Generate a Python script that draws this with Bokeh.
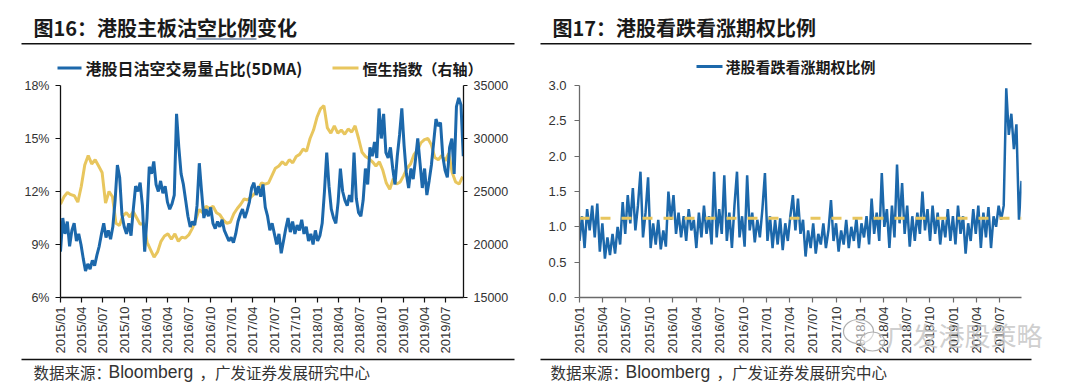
import pandas as pd
from bokeh.plotting import figure
from bokeh.models import (Range1d, LinearAxis, FixedTicker, DatetimeTickFormatter,
                          PrintfTickFormatter, NumeralTickFormatter)
from bokeh.layouts import row, column
from bokeh.core.properties import value
from bokeh.embed import file_html
from bokeh.resources import INLINE

# ---------------- data ----------------
title_left = "图16：港股主板沽空比例变化"
title_right = "图17：港股看跌看涨期权比例"
source_head = "数据来源："
source_org = "Bloomberg"
source_tail = "，广发证券发展研究中心"
watermark = "广发港股策略"

short_name = "港股日沽空交易量占比(5DMA)"
hsi_name = "恒生指数（右轴）"
pcr_name = "港股看跌看涨期权比例"

tick_labels = ["2015/01", "2015/04", "2015/07", "2015/10", "2016/01", "2016/04",
               "2016/07", "2016/10", "2017/01", "2017/04", "2017/07", "2017/10",
               "2018/01", "2018/04", "2018/07", "2018/10", "2019/01", "2019/04",
               "2019/07"]

# HK main board short-selling turnover ratio, 5DMA (%)
short_start, short_end = "2015-01-01", "2019-09-15"
short_ratio = [
    8.6, 10.5, 9.6, 10.3, 8.9, 9.8, 10.2, 9.2, 9.6, 9.0,
    8.2, 7.5, 7.9, 7.6, 8.1, 7.8, 8.4, 8.9, 9.6, 10.2,
    9.4, 9.8, 9.3, 10.0, 11.5, 13.5, 12.8, 10.7, 10.0, 9.6,
    10.2, 9.5, 11.0, 12.3, 12.0, 12.5, 11.2, 8.6, 10.5, 13.4,
    13.0, 13.7, 12.4, 12.0, 12.6, 11.9, 12.3, 11.4, 11.0, 11.3,
    11.8, 16.4, 14.5, 13.0, 12.4, 11.5, 10.6, 10.0, 10.3, 10.1,
    11.2, 13.6, 12.0, 10.5, 11.0, 10.6, 11.1, 10.2, 9.9, 10.3,
    10.0, 10.4, 9.8, 9.5, 9.2, 9.4, 9.1, 9.6, 10.3, 10.7,
    11.0, 10.5, 10.9, 11.4, 12.2, 12.5, 11.8, 12.3, 11.7, 12.4,
    11.1, 10.6, 9.8, 10.2, 9.6, 9.0, 9.6, 8.5, 9.2, 9.9,
    10.5, 9.7, 10.3, 9.6, 10.1, 9.8, 10.4, 9.6, 10.0, 9.2,
    9.6, 9.0, 9.8, 9.2, 9.5, 10.2, 12.0, 14.2, 12.3, 11.0,
    10.5, 10.2, 11.4, 13.3, 12.0, 11.5, 11.2, 11.8, 11.4, 14.2,
    11.6, 10.8, 10.6, 11.5, 13.3, 12.4, 14.5, 14.0, 14.8, 13.9,
    16.7, 15.0, 16.4, 14.2, 13.9, 14.5, 13.3, 12.4, 14.0, 15.2,
    16.7, 14.6, 13.0, 12.2, 13.3, 12.7, 13.8, 15.0, 13.6, 12.2,
    13.3, 11.8, 12.6, 13.5, 14.8, 16.1, 15.7, 15.9, 14.0, 13.2,
    12.8, 14.5, 15.0, 13.0, 16.8, 17.3, 16.9, 14.0,
]

# Hang Seng Index (right axis)
hsi_start, hsi_end = "2015-01-01", "2019-09-12"
hsi = [
    23800, 24500, 24900, 24700, 24600, 24000, 25500, 27500, 28400, 27600,
    28000, 27400, 26800, 23900, 25000, 24500, 22000, 21800, 22700, 23000,
    22600, 23100, 22500, 21900, 22000, 20200, 19500, 18800, 19300, 20300,
    20800, 21000, 20500, 21000, 20300, 20700, 20600, 20900, 21500, 22300,
    23300, 23000, 23600, 23400, 23600, 23000, 22800, 22300, 22000, 22100,
    22900, 23400, 23800, 24300, 24200, 24500, 24800, 25200, 25800, 25700,
    25800, 26500, 27200, 27400, 27800, 27500, 28000, 27700, 28300, 28500,
    29000, 28800, 30000, 30800, 32000, 32800, 33100, 31000, 30500, 31200,
    30500, 30800, 30400, 30900, 30600, 31200, 30000, 28700, 28300, 28100,
    27800, 27400, 27800, 27000, 25800, 25200, 26200, 25700, 25900, 26500,
    27200, 27600, 28500, 28900, 29600, 29900, 30000, 29400, 28200, 28000,
    28400, 27900, 28600, 26800, 25900, 25700, 26400,
]

# HK put/call ratio
pcr_start, pcr_end = "2015-01-01", "2019-09-24"
pcr = [
    0.80, 1.15, 0.70, 1.25, 0.95, 1.30, 0.85, 1.33, 0.65, 1.05,
    0.55, 0.85, 0.60, 0.90, 0.62, 1.00, 0.75, 1.35, 0.90, 1.45,
    1.05, 1.55, 0.95, 1.30, 1.78, 0.85, 1.20, 1.70, 0.70, 1.05,
    0.75, 1.10, 0.68, 0.95, 0.72, 1.50, 1.10, 1.45, 0.90, 1.20,
    0.85, 1.15, 0.80, 1.25, 0.95, 1.10, 0.70, 1.20, 0.85, 1.30,
    0.90, 1.15, 0.75, 1.78, 0.85, 1.25, 0.90, 1.73, 0.80, 1.20,
    0.70, 1.30, 1.78, 0.85, 1.15, 0.72, 1.73, 0.95, 1.20, 0.78,
    1.10, 0.85, 1.25, 1.76, 0.80, 1.15, 0.70, 1.10, 0.75, 1.12,
    0.67, 1.05, 0.80, 1.15, 1.45, 0.95, 1.40, 0.90, 1.10, 0.58,
    0.95, 0.70, 1.05, 0.62, 0.90, 0.75, 1.05, 0.70, 0.95, 1.38,
    0.80, 1.05, 0.65, 0.95, 0.75, 1.10, 0.70, 1.00, 0.80, 1.12,
    0.70, 1.05, 0.85, 1.15, 0.75, 1.40, 0.90, 1.20, 0.80, 1.76,
    1.00, 1.25, 0.70, 1.30, 0.85, 1.88, 1.05, 1.62, 0.90, 1.30,
    0.72, 1.15, 0.80, 1.20, 0.90, 1.50, 0.95, 1.25, 0.80, 1.30,
    0.90, 1.20, 0.75, 1.10, 0.85, 1.25, 0.80, 1.15, 0.75, 1.30,
    0.90, 1.15, 0.62, 1.05, 0.80, 1.25, 0.90, 1.30, 0.70, 1.20,
    0.85, 1.28, 0.70, 1.15, 1.00, 1.30, 1.10, 1.30, 2.96, 2.30,
    2.60, 2.10, 2.45, 1.10, 1.65,
]
pcr_mean = 1.12

# ---------------- styling ----------------
BLUE = "#1c68ab"
YELLOW = "#e8c65e"
LBL_FONT = "Liberation Sans"
CJK = "Noto Sans CJK SC"
W, H = 1080, 383

short_dates = pd.date_range(short_start, short_end, periods=len(short_ratio))
hsi_dates = pd.date_range(hsi_start, hsi_end, periods=len(hsi))
pcr_dates = pd.date_range(pcr_start, pcr_end, periods=len(pcr))
tick_ms = [pd.to_datetime(t, format="%Y/%m").timestamp() * 1000 for t in tick_labels]

fmt = DatetimeTickFormatter(years="%Y/%m", months="%Y/%m", days="%Y/%m",
                            hours="%Y/%m", minutes="%Y/%m", seconds="%Y/%m",
                            milliseconds="%Y/%m", microseconds="%Y/%m",
                            hourmin="%Y/%m", minsec="%Y/%m")


def style_axis(ax, color, size="12.5px", tick_out=5, standoff=5):
    ax.axis_line_color = color
    ax.axis_line_width = 1.3
    ax.major_tick_line_color = color
    ax.major_tick_line_width = 1.2
    ax.major_tick_in = 0
    ax.major_tick_out = tick_out
    ax.minor_tick_line_color = None
    ax.major_label_text_font = LBL_FONT
    ax.major_label_text_font_size = size
    ax.major_label_text_color = "#333333"
    ax.major_label_standoff = standoff


def chart_fig(x0, x1, y0, y1, borders):
    l, r, t, b = borders
    p = figure(width=W // 2, height=H, x_axis_type="datetime",
               x_range=Range1d(pd.Timestamp(x0), pd.Timestamp(x1)),
               y_range=Range1d(y0, y1),
               output_backend="svg", toolbar_location=None,
               min_border_left=l, min_border_right=r,
               min_border_top=t, min_border_bottom=b)
    p.outline_line_color = None
    p.xgrid.grid_line_color = None
    p.ygrid.grid_line_color = None
    p.background_fill_alpha = 0
    p.border_fill_alpha = 0
    p.xaxis.ticker = FixedTicker(ticks=tick_ms, minor_ticks=[])
    p.xaxis.formatter = fmt
    p.xaxis.major_label_orientation = 3.14159265 / 2
    return p


# ---------------- left chart ----------------
pL = chart_fig("2015-01-01", "2019-09-16", 6, 18, (60, 77, 85, 84))
pL.extra_y_ranges = {"hsi": Range1d(15000, 35000)}
pL.line(hsi_dates, hsi, y_range_name="hsi", line_color=YELLOW, line_width=3)
pL.line(short_dates, short_ratio, line_color=BLUE, line_width=3)

pL.yaxis.ticker = FixedTicker(ticks=[6, 9, 12, 15, 18], minor_ticks=[])
pL.yaxis.formatter = PrintfTickFormatter(format="%d%%")
style_axis(pL.yaxis[0], "#111111", standoff=6)
style_axis(pL.xaxis[0], "#111111", size="13px", standoff=4)
ax_r = LinearAxis(y_range_name="hsi",
                  ticker=FixedTicker(ticks=[15000, 20000, 25000, 30000, 35000], minor_ticks=[]))
style_axis(ax_r, "#111111", tick_out=4, standoff=6)
pL.add_layout(ax_r, "right")

# ---------------- right chart ----------------
pR = chart_fig("2015-01-01", "2019-09-24", 0, 3, (39, 59, 80, 86))
pR.line(pcr_dates, pcr, line_color=BLUE, line_width=2.5)
pR.line([pcr_dates[0], pcr_dates[-1]], [pcr_mean, pcr_mean], line_color=YELLOW,
        line_width=3, line_dash="10 11")
pR.yaxis.ticker = FixedTicker(ticks=[0, 0.5, 1.0, 1.5, 2.0, 2.5, 3.0], minor_ticks=[])
pR.yaxis.formatter = NumeralTickFormatter(format="0.0")
style_axis(pR.yaxis[0], "#6a6a6a", size="13px", standoff=8)
style_axis(pR.xaxis[0], "#6a6a6a", size="13px", standoff=4)

charts = row(pL, pR)

# ---------------- decoration layer (titles, legends, notes) ----------------
deco = figure(width=W, height=H, x_range=Range1d(0, W), y_range=Range1d(H, 0),
              output_backend="svg", toolbar_location=None,
              min_border=0, min_border_left=0, min_border_right=0,
              min_border_top=0, min_border_bottom=0)
deco.xaxis.visible = False
deco.yaxis.visible = False
deco.grid.visible = False
deco.outline_line_color = None
deco.background_fill_alpha = 0
deco.border_fill_alpha = 0
deco.margin = (-H, 0, 0, 0)


def txt(x, y, s, size, font=CJK, style="normal", color="#1a1a1a", alpha=1.0):
    deco.text(x=[x], y=[y], text=[s], text_font=value(font), text_font_size=size,
              text_font_style=style, text_color=color, text_alpha=alpha,
              text_align="left", text_baseline="middle")


def hline(x0, x1, y, color, width):
    deco.segment(x0=[x0], y0=[y], x1=[x1], y1=[y], line_color=color, line_width=width)


# titles and rules
txt(33, 27, title_left, "20px", style="bold")
txt(552, 27, title_right, "20px", style="bold")
hline(196, 256, 38.5, "#2b4c7e", 1.2)
hline(21, 514, 43.3, "#111111", 1.6)
hline(540, 1031, 43.3, "#111111", 1.6)
# legends
hline(57, 81, 67.5, BLUE, 3)
txt(85, 67.5, short_name, "16px", style="bold")
hline(332, 358, 67.5, YELLOW, 3)
txt(362, 67.5, hsi_name, "15px", style="bold")
hline(696, 722, 66, BLUE, 3)
txt(725, 66, pcr_name, "15px", style="bold")
# source notes
hline(21, 514, 359, "#111111", 1.6)
hline(540, 1031, 359, "#111111", 1.6)
for dx in (0, 517):
    txt(33 + dx, 371, source_head, "15.5px", color="#333333")
    txt(108 + dx, 371, source_org, "17.5px", font=LBL_FONT, color="#333333")
    txt(199 + dx, 371, source_tail, "15.5px", color="#333333")
# watermark (icon + account name)
deco.ellipse(x=[858, 872], y=[331, 341], width=[30, 24], height=[24, 19],
             fill_color="white", fill_alpha=0.5, line_color="#b0b0b0", line_width=1.2)
txt(886, 334, watermark, "26px", color="#c2c2c2", alpha=0.8)

layout = column(charts, deco)
open("out.html", "w").write(file_html(layout, INLINE))
